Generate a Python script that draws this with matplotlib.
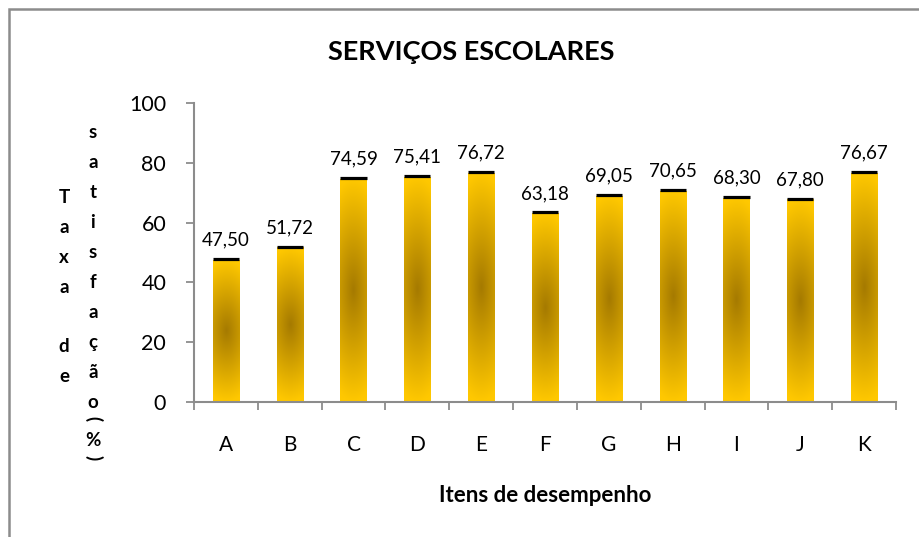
import numpy as np
import matplotlib
matplotlib.use("Agg")
import matplotlib.pyplot as plt
from matplotlib.patches import Rectangle

plt.rcParams['font.family'] = ['Lato', 'DejaVu Sans']

# dados
itens = ['A', 'B', 'C', 'D', 'E', 'F', 'G', 'H', 'I', 'J', 'K']
taxas = [47.50, 51.72, 74.59, 75.41, 76.72, 63.18, 69.05, 70.65, 68.30, 67.80, 76.67]
titulo = 'SERVIÇOS ESCOLARES'
xlab = 'Itens de desempenho'

ouro = np.array([255, 200, 0]) / 255.0
escuro = np.array([165, 122, 0]) / 255.0

W, H = 920, 537
fig = plt.figure(figsize=(9.2, 5.37), dpi=100)
ax = fig.add_axes([194 / W, 1 - 402 / H, (896 - 194) / W, (402 - 103) / H])

x = np.arange(len(itens))
barras = ax.bar(x, taxas, width=0.41, color='none', edgecolor='none', zorder=2)

# gradiente em cada barra (claro nas pontas, escuro no meio)
for b in barras:
    x0, w, h = b.get_x(), b.get_width(), b.get_height()
    yy, xx = np.mgrid[-1:1:200j, -1:1:40j]
    d = np.sqrt(yy ** 2 + 0.15 * xx ** 2)
    d = np.clip(d, 0, 1)
    img = escuro[None, None, :] + (ouro - escuro)[None, None, :] * d[:, :, None]
    im = ax.imshow(img, extent=[x0, x0 + w, 0, h], aspect='auto', zorder=2,
                   interpolation='bilinear')
    im.set_clip_path(b)
    ax.hlines(h + 0.2, x0, x0 + w, color='black', lw=2.3, zorder=3)
    ax.annotate(f'{h:.2f}'.replace('.', ','), (x0 + w / 2, h), xytext=(0, 8),
                textcoords='offset points', ha='center', va='bottom', fontsize=13.5)

ax.set_xlim(-0.5, len(itens) - 0.5)
ax.set_ylim(0, 100)
ax.set_yticks(range(0, 101, 20))
ax.set_xticks(x)
ax.set_xticklabels(itens)
ax.set_xticks(np.arange(-0.5, len(itens)), minor=True)
ax.tick_params(axis='x', which='major', length=0, pad=24, labelsize=15)
ax.tick_params(axis='x', which='minor', length=6, width=1.3, color='#8c8c8c', direction='out')
ax.tick_params(axis='y', length=6, width=1.3, color='#8c8c8c', pad=14, labelsize=15.5)
for s in ['top', 'right']:
    ax.spines[s].set_visible(False)
for s in ['left', 'bottom']:
    ax.spines[s].set_color('#8c8c8c')
    ax.spines[s].set_linewidth(1.5)

fig.text(471 / W, 1 - 52 / H, titulo, ha='center', va='center', fontsize=19.5, fontweight='bold')
fig.text(545 / W, 1 - 495 / H, xlab, ha='center', va='center', fontsize=16, fontweight='bold')

# rótulo do eixo y em letras empilhadas
col1 = ['T', 'a', 'x', 'a', '', 'd', 'e']
for i, c in enumerate(col1):
    fig.text(64 / W, 1 - (198 + 29.8 * i) / H, c, ha='center', va='center',
             fontsize=13.5, fontweight='bold')
col2 = ['s', 'a', 't', 'i', 's', 'f', 'a', 'ç', 'ã', 'o']
for i, c in enumerate(col2):
    fig.text(93 / W, 1 - (133 + 29.9 * i) / H, c, ha='center', va='center',
             fontsize=13.5, fontweight='bold')
fig.text(93 / W, 1 - 419 / H, '(', ha='center', va='center', rotation=-90,
         fontsize=13.5, fontweight='bold')
fig.text(93 / W, 1 - 441 / H, '%', ha='center', va='center', fontsize=13.5, fontweight='bold')
fig.text(93 / W, 1 - 458 / H, ')', ha='center', va='center', rotation=-90,
         fontsize=13.5, fontweight='bold')

# moldura cinza
fig.patches.append(Rectangle((9 / W, -0.1), 1.2, 1.1 - 9 / H, transform=fig.transFigure,
                             fill=False, edgecolor='#8c8c8c', lw=1.8))

fig.savefig('out.png', dpi=100)
